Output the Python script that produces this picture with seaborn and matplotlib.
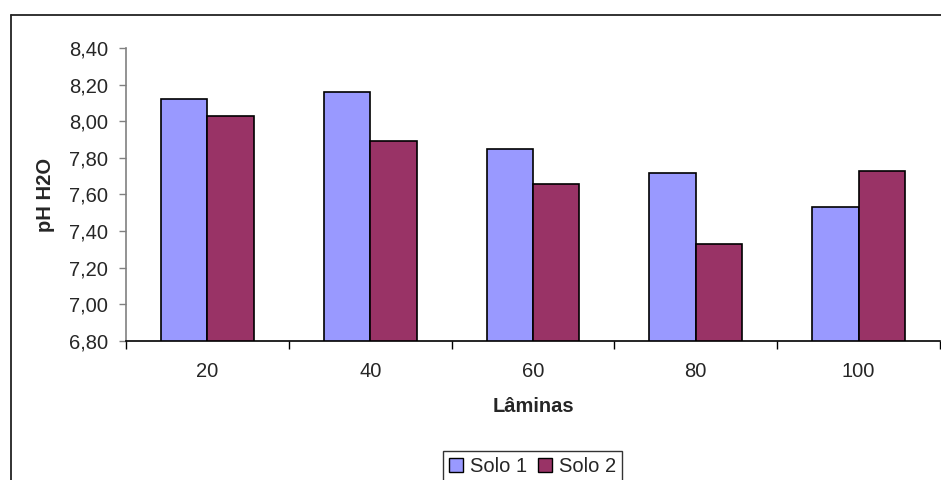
import pandas as pd
import numpy as np
import matplotlib.pyplot as plt
import seaborn as sns
from matplotlib.lines import Line2D

sns.set_style("white")
plt.rcParams['font.family'] = ['Liberation Sans', 'DejaVu Sans']

# Dados
laminas = ['20', '40', '60', '80', '100']
solo_1 = [8.12, 8.16, 7.85, 7.72, 7.53]
solo_2 = [8.03, 7.89, 7.66, 7.33, 7.73]
series = ['Solo 1', 'Solo 2']
y_ticks = [6.80, 7.00, 7.20, 7.40, 7.60, 7.80, 8.00, 8.20, 8.40]
y_labels = ['6,80', '7,00', '7,20', '7,40', '7,60', '7,80', '8,00', '8,20', '8,40']

COR_1 = '#9999FF'
COR_2 = '#993366'
FS = 14.5

df = pd.DataFrame({
    'Lâminas': laminas * 2,
    'pH': solo_1 + solo_2,
    'Solo': [series[0]] * len(laminas) + [series[1]] * len(laminas),
})

fig = plt.figure(figsize=(9.41, 4.80), dpi=100)
ax = fig.add_axes([0.1339, 0.2896, 0.8650, 0.6104])

sns.barplot(data=df, x='Lâminas', y='pH', hue='Solo', order=laminas,
            palette=[COR_1, COR_2], saturation=1, edgecolor='black', linewidth=1.2,
            width=0.57, gap=0, ax=ax, legend=False)

ax.set_ylim(6.80, 8.40)
ax.set_xlim(-0.5, 4.5)
ax.set_yticks(y_ticks)
ax.set_yticklabels(y_labels, fontsize=FS)
ax.tick_params(axis='y', length=5, width=1, color='#808080', direction='out', left=True, pad=8)
ax.tick_params(axis='x', which='major', length=0, labelsize=FS, pad=15)
ax.set_xticks(np.arange(-0.5, 5, 1), minor=True)
ax.tick_params(axis='x', which='minor', length=6, width=1, color='black', direction='out', bottom=True)

for side in ['top', 'right']:
    ax.spines[side].set_visible(False)
ax.spines['left'].set_color('#808080')
ax.spines['left'].set_linewidth(1.2)
ax.spines['bottom'].set_color('black')
ax.spines['bottom'].set_linewidth(1.2)

ax.set_xlabel('Lâminas', fontsize=FS, fontweight='bold', labelpad=12)
ax.set_ylabel('pH H2O', fontsize=FS, fontweight='bold')
ax.yaxis.set_label_coords(-0.087, 0.5)

handles = [plt.Rectangle((0, 0), 1, 1, facecolor=c, edgecolor='black', linewidth=1)
           for c in [COR_1, COR_2]]
leg = fig.legend(handles, series, loc='lower center', bbox_to_anchor=(0.566, -0.004),
                 ncol=2, fontsize=FS, frameon=True, fancybox=False,
                 handlelength=0.7, handleheight=0.7, handletextpad=0.35,
                 columnspacing=0.5, borderpad=0.3, borderaxespad=0)
leg.get_frame().set_edgecolor('black')
leg.get_frame().set_linewidth(1)

# borda externa do gráfico
fig.add_artist(Line2D([11 / 941, 11 / 941], [0, 1 - 15 / 480], color='#222222', linewidth=1.3))
fig.add_artist(Line2D([11 / 941, 1], [1 - 15 / 480, 1 - 15 / 480], color='#222222', linewidth=1.3))

fig.savefig('out.png', dpi=100)
